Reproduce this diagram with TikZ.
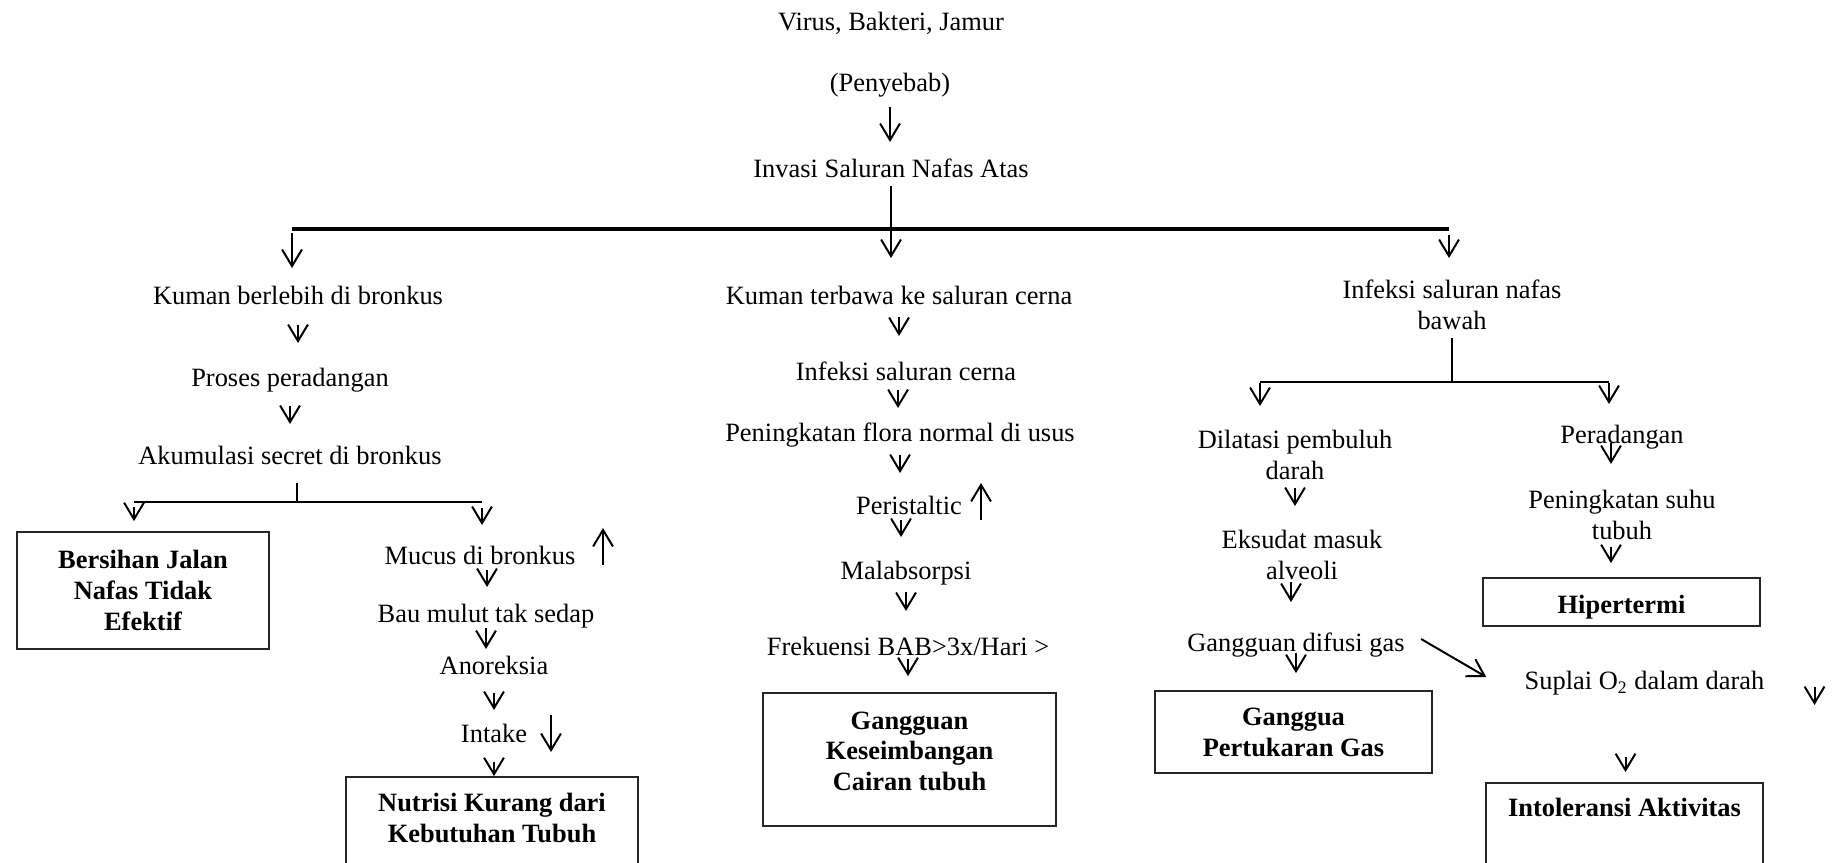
\documentclass[tikz,border=0pt]{standalone}
\usepackage{fontspec}
\setmainfont{Liberation Serif}
\usetikzlibrary{arrows.meta, calc}
\newdimen\pxu \pxu=0.454pt

\tikzset{
  txt/.style={inner sep=0pt, text height=12pt, text depth=3pt},
  txtm/.style={inner sep=0pt, align=center},
  box/.style={draw=black!85, line width=0.8pt, inner sep=0pt, align=center, font=\fontsize{12pt}{14pt}\selectfont\bfseries},
  arr/.style={line width=0.9pt, -{Straight Barb[length=7.5pt,width=9pt]}},
  bar/.style={line width=1.4pt},
  stem/.style={line width=1.1pt},
  gap/.style 2 args={shorten <=#1\pxu, shorten >=#2\pxu}
}

\begin{document}
\begin{tikzpicture}[x=0.454pt, y=-0.454pt, font=\fontsize{12pt}{14pt}\selectfont]
             \useasboundingbox (0,0) rectangle (1841,863);
             \node[txt] (virus) at (891,21) {Virus, Bakteri, Jamur};
             \node[txt] (sebab) at (890,82) {(Penyebab)};
             \node[txt] (invasi) at (891,168) {Invasi Saluran Nafas Atas};
             \coordinate (barL) at (292,229);
             \coordinate (barR) at (1449,229);
             \node[txt] (kuman) at (298,295) {Kuman berlebih di bronkus};
             \node[txt] (proses) at (290,377) {Proses peradangan};
             \node[txt] (akum) at (290,455) {Akumulasi secret di bronkus};
             \coordinate (subL) at (134,502);
             \coordinate (subR) at (482,502);
             \node[box, minimum width=252\pxu, minimum height=117\pxu] (bersih) at (143,590.5) {Bersihan Jalan\\Nafas Tidak\\Efektif};
             \node[txt] (mucus) at (480,555) {Mucus di bronkus};
             \node[txt] (bau) at (486,613) {Bau mulut tak sedap};
             \node[txt] (anor) at (494,665) {Anoreksia};
             \node[txt] (intake) at (494,733) {Intake};
             \node[box, minimum width=292\pxu, minimum height=108\pxu] (nutrisi) at (492,831) {Nutrisi Kurang dari\\Kebutuhan Tubuh\\[-2.3pt]~};
             \node[txt] (terbawa) at (899,295) {Kuman terbawa ke saluran cerna};
             \node[txt] (cerna) at (906,371) {Infeksi saluran cerna};
             \node[txt] (flora) at (900,432) {Peningkatan flora normal di usus};
             \node[txt] (peris) at (909,505) {Peristaltic};
             \node[txt] (malab) at (906,570) {Malabsorpsi};
             \node[txt] (bab) at (908,646) {Frekuensi BAB>3x/Hari >};
             \node[box, minimum width=293\pxu, minimum height=133\pxu] (cairan) at (909.5,759.5) {Gangguan\\Keseimbangan\\Cairan tubuh\\[-6.4pt]~};
             \node[txtm] (bawah) at (1452,305) {Infeksi saluran nafas\\bawah};
             \coordinate (rbarL) at (1260,382);
             \coordinate (rbarR) at (1609,382);
             \node[txtm] (dilatasi) at (1295,455) {Dilatasi pembuluh\\darah};
             \node[txt] (radang) at (1622,434) {Peradangan};
             \node[txtm] (eksudat) at (1302,555) {Eksudat masuk\\alveoli};
             \node[txtm] (suhu) at (1622,515) {Peningkatan suhu\\tubuh};
             \node[box, minimum width=277\pxu, minimum height=48\pxu, text height=12pt, text depth=1.5pt] (hiper) at (1621.5,602) {Hipertermi};
             \node[txt] (difusi) at (1296,642) {Gangguan difusi gas};
             \node[box, minimum width=277\pxu, minimum height=82\pxu] (tukar) at (1293.5,732) {Ganggua\\Pertukaran Gas};
             \node[txt] (suplai) at (1644.5,680) {Suplai O\textsubscript{2} dalam darah};
             \node[box, minimum width=277\pxu, minimum height=106\pxu] (intol) at (1624.5,836) {Intoleransi Aktivitas\\[-2.3pt]~\\~};

             \draw[arr, gap={25}{26}] (sebab.center) -- (sebab.center |- invasi.center);
             \draw[arr, gap={18}{37}] (invasi.center) -- (invasi.center |- terbawa.center);
             \draw[bar] (barL) -- (barR);
             \draw[arr, gap={4}{27}] (barL) -- (barL |- kuman.center);
             \draw[arr, gap={6}{47}] (barR) -- (barR |- bawah.center);

             \draw[arr, gap={30}{34}] (kuman.center) -- (kuman.center |- proses.center);
             \draw[arr, gap={29}{31}] (proses.center) -- (proses.center |- akum.center);
             \draw[stem] ($(akum.center)+(7,28)$) -- ($(akum.center |- subL)+(7,0)$);
             \draw[stem] (subL) -- (subR);
             \draw[arr, gap={5}{10}] (subL) -- (subL |- bersih.north);
             \draw[arr, gap={6}{30}] (subR) -- (subR |- mucus.center);
             \draw[arr] ($(mucus.center)+(7,15)$) -- ($(mucus.center |- bau.center)+(7,-26)$);
             \draw[arr, gap={15}{16}] (bau.center) -- (bau.center |- anor.center);
             \draw[arr, gap={28}{23}] (anor.center) -- (anor.center |- intake.center);
             \draw[arr, gap={29}{0}] (intake.center) -- (intake.center |- nutrisi.north);
             \draw[arr] ($(mucus.center)+(123,10)$) -- ++(0,-37);
             \draw[arr] ($(intake.center)+(57,-18)$) -- ++(0,37);

             \draw[arr, gap={22}{35}] (terbawa.center) -- (terbawa.center |- cerna.center);
             \draw[arr] ($(cerna.center)+(-8,19)$) -- ($(cerna.center |- flora.center)+(-8,-24)$);
             \draw[arr, gap={23}{32}] (flora.center) -- (flora.center |- peris.center);
             \draw[arr] ($(peris.center)+(-8,15)$) -- ($(peris.center |- malab.center)+(-8,-33)$);
             \draw[arr, gap={22}{35}] (malab.center) -- (malab.center |- bab.center);
             \draw[arr, gap={13}{16}] (bab.center) -- (bab.center |- cairan.north);
             \draw[arr] ($(peris.center)+(72,15)$) -- ++(0,-37);

             \draw[stem, gap={33}{0}] (bawah.center) -- (bawah.center |- rbarL);
             \draw[stem] (rbarL) -- (rbarR);
             \draw[arr, gap={1}{49}] (rbarL) -- (rbarL |- dilatasi.center);
             \draw[arr, gap={1}{30}] (rbarR) -- (rbarR |- radang.center);
             \draw[arr, gap={33}{49}] (dilatasi.center) -- (dilatasi.center |- eksudat.center);
             \draw[arr] ($(radang.center)+(-11,9)$) -- ($(radang.center |- suhu.center)+(-11,-51)$);
             \draw[arr] ($(suhu.center)+(-11,32)$) -- ($(suhu.center |- hiper.north)+(-11,-14)$);
             \draw[arr] ($(eksudat.center)+(-11,27)$) -- ($(eksudat.center |- difusi.center)+(-11,-40)$);
             \draw[arr, gap={11}{17}] (difusi.center) -- (difusi.center |- tukar.north);
             \draw[arr] ($(difusi.east)+(16,-3)$) -- ($(suplai.west)+(-38,-3)$);
             \draw[arr] ($(suplai.center)+(170,7)$) -- ++(0,18);
             \draw[arr] ($(suplai.center)+(-19,77)$) -- ($(suplai.center |- intol.north)+(-19,-10)$);
\end{tikzpicture}
\end{document}
